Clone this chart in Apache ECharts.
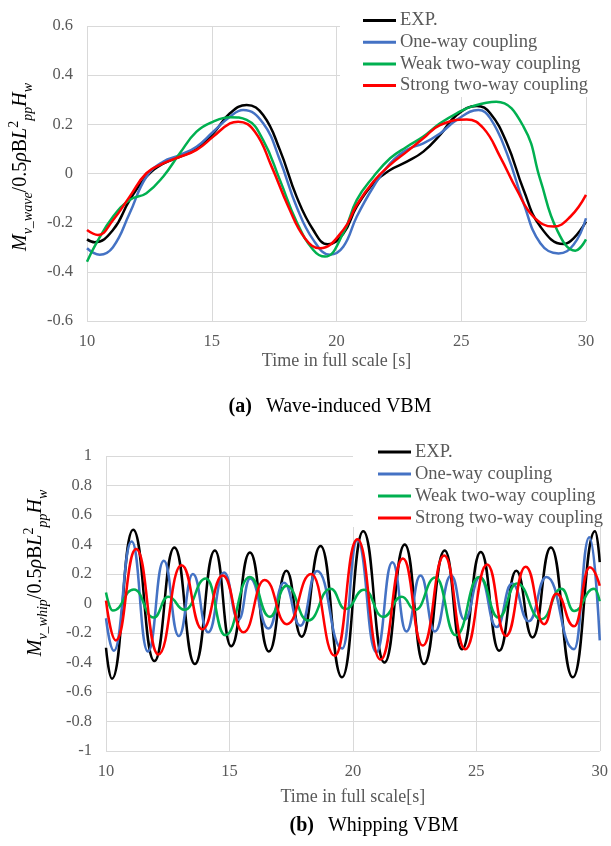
<!DOCTYPE html>
<html><head><meta charset="utf-8">
<script src="https://cdn.jsdelivr.net/npm/echarts@6.0.0/dist/echarts.min.js"></script>
<style>html,body{margin:0;padding:0;background:#fff}#c{width:611px;height:846px}</style>
</head><body><div id="c"></div>
<script>
const seriesNames = ['EXP.', 'One-way coupling', 'Weak two-way coupling', 'Strong two-way coupling'];
const seriesColors = ['#000000', '#4472C4', '#00B050', '#FF0000'];

// (a) Wave-induced VBM
const waveExpT = [10, 10.31, 11.04, 11.71, 12.38, 13.05, 13.72, 14.39, 15.06, 15.73, 16.4, 17.06, 17.73, 18.4, 19.07, 19.65, 20.27, 20.81, 21.48, 22.15, 22.82, 23.48, 24.15, 24.82, 25.63, 26.16, 26.83, 27.5, 28.17, 29.1, 29.5, 30];
const waveExpV = [-0.268, -0.28, -0.23, -0.108, -0.013, 0.04, 0.068, 0.10, 0.163, 0.245, 0.279, 0.238, 0.096, -0.094, -0.23, -0.288, -0.245, -0.135, -0.04, 0.014, 0.048, 0.089, 0.157, 0.238, 0.275, 0.245, 0.123, -0.067, -0.216, -0.287, -0.264, -0.196];
const waveOneT = [10, 10.51, 11.04, 11.71, 12.38, 13.05, 13.72, 14.39, 15.06, 15.73, 16.26, 17.06, 17.73, 18.4, 19.07, 19.74, 20.27, 20.81, 21.48, 22.15, 22.82, 23.48, 24.15, 24.82, 25.69, 26.16, 26.83, 27.5, 28.17, 28.9, 29.5, 30];
const waveOneV = [-0.304, -0.33, -0.30, -0.162, -0.013, 0.048, 0.075, 0.109, 0.17, 0.231, 0.258, 0.204, 0.055, -0.135, -0.27, -0.33, -0.298, -0.176, -0.054, 0.041, 0.096, 0.123, 0.163, 0.218, 0.258, 0.225, 0.082, -0.121, -0.284, -0.325, -0.29, -0.182];
const waveWeakT = [10, 10.37, 11.04, 11.71, 12.38, 13.05, 13.72, 14.39, 15.06, 15.73, 16.4, 17.06, 17.73, 18.4, 19.07, 19.54, 20.27, 20.81, 21.48, 22.15, 22.82, 23.48, 24.15, 24.82, 25.49, 26.4, 27.5, 28.17, 28.84, 29.57, 30];
const waveWeakV = [-0.359, -0.284, -0.176, -0.108, -0.08, -0.013, 0.082, 0.17, 0.211, 0.229, 0.218, 0.136, -0.026, -0.196, -0.311, -0.338, -0.243, -0.108, -0.013, 0.062, 0.109, 0.15, 0.204, 0.245, 0.275, 0.292, 0.19, -0.026, -0.23, -0.314, -0.268];
const waveStrongT = [10, 10.44, 11.04, 11.71, 12.38, 13.05, 13.72, 14.39, 15.06, 15.73, 16.06, 16.73, 17.4, 18.07, 18.74, 19.34, 20.27, 20.81, 21.48, 22.15, 22.82, 23.48, 24.15, 25.22, 25.89, 26.56, 27.23, 27.9, 28.7, 29.37, 30];
const waveStrongV = [-0.23, -0.25, -0.19, -0.094, 0.001, 0.041, 0.068, 0.096, 0.15, 0.204, 0.211, 0.17, 0.028, -0.135, -0.264, -0.304, -0.23, -0.128, -0.033, 0.035, 0.089, 0.143, 0.197, 0.22, 0.184, 0.068, -0.067, -0.176, -0.216, -0.176, -0.087];

// (b) Whipping VBM (peaks and troughs)
const whipExpT = [10.0, 10.24, 11.1, 11.96, 12.77, 13.6, 14.41, 15.07, 15.83, 16.6, 17.31, 17.92, 18.69, 19.56, 20.42, 21.28, 22.1, 22.88, 23.72, 24.42, 25.18, 25.93, 26.62, 27.28, 28.02, 28.91, 29.81, 30.0];
const whipExpV = [-0.30, -0.51, 0.50, -0.39, 0.38, -0.41, 0.36, -0.29, 0.345, -0.325, 0.222, -0.225, 0.39, -0.50, 0.49, -0.40, 0.40, -0.41, 0.36, -0.31, 0.35, -0.32, 0.222, -0.23, 0.38, -0.50, 0.49, 0.28];
const whipOneT = [10.0, 10.32, 11.04, 11.7, 12.34, 12.95, 13.52, 14.14, 14.78, 15.37, 15.84, 16.58, 17.21, 17.87, 18.55, 19.57, 20.18, 20.95, 21.6, 22.17, 22.74, 23.32, 23.98, 24.52, 25.15, 25.82, 26.45, 27.12, 27.84, 28.96, 29.58, 30.0];
const whipOneV = [-0.10, -0.32, 0.42, -0.325, 0.29, -0.22, 0.20, -0.195, 0.21, -0.11, 0.17, -0.17, 0.14, -0.15, 0.22, -0.305, 0.43, -0.33, 0.28, -0.19, 0.19, -0.19, 0.19, -0.11, 0.18, -0.16, 0.135, -0.12, 0.18, -0.31, 0.45, -0.25];
const whipWeakT = [10.0, 10.28, 11.13, 11.93, 12.52, 13.18, 14.05, 14.83, 15.83, 16.63, 17.31, 18.19, 19.1, 19.7, 20.45, 21.23, 21.98, 22.52, 23.35, 24.17, 25.12, 25.9, 26.64, 27.63, 28.45, 28.96, 29.77, 30.0];
const whipWeakV = [0.075, -0.048, 0.095, -0.095, 0.046, -0.043, 0.17, -0.215, 0.18, -0.09, 0.12, -0.115, 0.10, -0.038, 0.093, -0.09, 0.046, -0.043, 0.176, -0.216, 0.18, -0.095, 0.136, -0.107, 0.10, -0.05, 0.10, 0.015];
const whipStrongT = [10.0, 10.4, 11.22, 12.12, 13.06, 13.9, 14.73, 15.57, 16.43, 17.33, 18.31, 19.27, 20.18, 21.12, 22.03, 22.83, 23.7, 24.55, 25.44, 26.2, 27.0, 27.75, 28.24, 28.96, 29.6, 30.0];
const whipStrongV = [0.02, -0.25, 0.37, -0.345, 0.26, -0.175, 0.19, -0.195, 0.16, -0.14, 0.2, -0.355, 0.435, -0.38, 0.305, -0.285, 0.325, -0.31, 0.265, -0.22, 0.25, -0.14, 0.066, -0.155, 0.245, 0.12];

const xMin = 10, xMax = 30, xStep = 5;
const waveYMin = -0.6, waveYMax = 0.6, waveYStep = 0.2;
const whipYMin = -1, whipYMax = 1, whipYStep = 0.2;

function pairs(t, v) { return t.map((x, i) => [x, v[i]]); }

const FONT = 'Liberation Serif';
const GRAY = '#595959';
const GRID = '#d9d9d9';

function xAxisCfg(idx, name, gap) {
  return {
    gridIndex: idx, type: 'value', min: xMin, max: xMax, interval: xStep,
    name: name, nameLocation: 'middle', nameGap: gap,
    nameTextStyle: { fontFamily: FONT, fontSize: 18, color: GRAY },
    axisLine: { show: false }, axisTick: { show: false },
    axisLabel: { fontFamily: FONT, fontSize: 16.5, color: GRAY, margin: 12 },
    splitLine: { show: true, lineStyle: { color: GRID, width: 1 } }
  };
}
function yAxisCfg(idx, mn, mx, st) {
  return {
    gridIndex: idx, type: 'value', min: mn, max: mx, interval: st,
    axisLine: { show: false }, axisTick: { show: false },
    axisLabel: { fontFamily: FONT, fontSize: 16.5, color: GRAY, margin: 14 },
    splitLine: { show: true, lineStyle: { color: GRID, width: 1 } }
  };
}

const waveData = [[waveExpT, waveExpV], [waveOneT, waveOneV], [waveWeakT, waveWeakV], [waveStrongT, waveStrongV]];
const whipData = [[whipExpT, whipExpV], [whipOneT, whipOneV], [whipWeakT, whipWeakV], [whipStrongT, whipStrongV]];

const series = [];
waveData.forEach((d, i) => series.push({
  name: seriesNames[i], type: 'line', xAxisIndex: 0, yAxisIndex: 0,
  data: pairs(d[0], d[1]), showSymbol: false, symbol: 'none', smooth: 0.45,
  lineStyle: { color: seriesColors[i], width: 2.5 }, itemStyle: { color: seriesColors[i] }, z: 3
}));
whipData.forEach((d, i) => series.push({
  name: seriesNames[i], type: 'line', xAxisIndex: 1, yAxisIndex: 1,
  data: pairs(d[0], d[1]), showSymbol: false, symbol: 'none', smooth: 0.5, smoothMonotone: 'x',
  lineStyle: { color: seriesColors[i], width: 2.5 }, itemStyle: { color: seriesColors[i] }, z: 3
}));

function legendCfg(left, top, gap) {
  return {
    data: seriesNames, orient: 'vertical', left: left, top: top, padding: 0,
    icon: 'rect', itemWidth: 33, itemHeight: 3, itemGap: gap,
    textStyle: { fontFamily: FONT, fontSize: 18.5, color: GRAY, lineHeight: 20, padding: [0, 0, 0, -1] },
    selectedMode: false
  };
}

const titleRich = {
  i: { fontFamily: FONT, fontStyle: 'italic', fontSize: 20, lineHeight: 28, fill: '#000' },
  n: { fontFamily: FONT, fontSize: 20, lineHeight: 28, fill: '#000' },
  sub: { fontFamily: FONT, fontStyle: 'italic', fontSize: 14, lineHeight: 18, verticalAlign: 'bottom', fill: '#000' },
  sup: { fontFamily: FONT, fontSize: 14, lineHeight: 18, verticalAlign: 'top', fill: '#000' }
};
function yTitle(x, y, subName) {
  return {
    type: 'text', x: x, y: y, rotation: Math.PI / 2, z: 10,
    style: {
      text: '{i|M}{sub|v_' + subName + '}{n|/0.5}{i|ρ}{n|B}{i|L}{sup|2}{sub|pp}{i|H}{sub|w}',
      rich: titleRich, align: 'center', verticalAlign: 'middle'
    }
  };
}
const capRich = {
  b: { fontFamily: FONT, fontSize: 20, fontWeight: 'bold', fill: '#000' },
  n: { fontFamily: FONT, fontSize: 20, fill: '#000', padding: [0, 0, 0, 14] }
};
function caption(x, y, tag, txt) {
  return { type: 'text', x: x, y: y, z: 10,
    style: { text: '{b|' + tag + '}{n|' + txt + '}', rich: capRich, align: 'center', verticalAlign: 'middle' } };
}

const option = {
  animation: false,
  backgroundColor: '#fff',
  textStyle: { fontFamily: FONT },
  grid: [
    { left: 87, right: 25, top: 26, height: 295 },
    { left: 106, right: 11, top: 456, height: 295 }
  ],
  xAxis: [xAxisCfg(0, 'Time in full scale [s]', 31), xAxisCfg(1, 'Time in full scale[s]', 37)],
  yAxis: [yAxisCfg(0, waveYMin, waveYMax, waveYStep), yAxisCfg(1, whipYMin, whipYMax, whipYStep)],
  legend: [legendCfg(363, 10.5, 1.7), legendCfg(378, 442, 2)],
  series: series,
  graphic: [
    { type: 'rect', z: 1, shape: { x: 340, y: 0, width: 271, height: 97 }, style: { fill: '#fff' } },
    { type: 'rect', z: 1, shape: { x: 353, y: 430, width: 258, height: 97 }, style: { fill: '#fff' } },
    yTitle(21, 167, 'wave'),
    yTitle(36, 573, 'whip'),
    caption(330, 407, '(a)', 'Wave-induced VBM'),
    caption(374, 826, '(b)', 'Whipping VBM')
  ]
};
const chart = echarts.init(document.getElementById('c'), null, { renderer: 'canvas' });
chart.setOption(option);
</script></body></html>
